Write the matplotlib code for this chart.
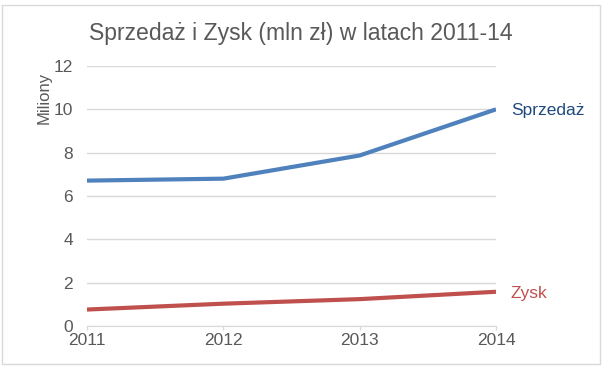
import matplotlib
matplotlib.use("Agg")
import matplotlib.pyplot as plt
from matplotlib.patches import Rectangle

years = ["2011", "2012", "2013", "2014"]
sprzedaz = [6.71, 6.80, 7.87, 10.0]
zysk = [0.76, 1.03, 1.24, 1.58]
yticks = [0, 2, 4, 6, 8, 10, 12]

plt.rcParams['font.family'] = ['Liberation Sans', 'DejaVu Sans']

fig = plt.figure(figsize=(6.04, 3.70), dpi=100)
fig.patch.set_facecolor("white")
fig.patches.append(Rectangle((2/604, 1 - 364/370), 598/604, 359/370,
                             transform=fig.transFigure, fill=False,
                             edgecolor="#d9d9d9", linewidth=1.0))

ax = fig.add_axes([87/604, 1 - 326/370, (496 - 87)/604, (326 - 66)/370])
x = list(range(len(years)))
ax.plot(x, sprzedaz, color="#4F81BD", linewidth=3.0, solid_capstyle="butt")
ax.plot(x, zysk, color="#C0504D", linewidth=3.0, solid_capstyle="butt")

ax.set_xlim(0, len(years) - 1)
ax.set_ylim(0, 12)
ax.set_xticks(x)
ax.set_xticklabels(years)
ax.set_yticks(yticks)
ax.set_yticklabels([str(v) for v in yticks])
ax.grid(axis="y", color="#d9d9d9", linewidth=1.0)
ax.set_axisbelow(True)
for s in ["top", "right", "left"]:
    ax.spines[s].set_visible(False)
ax.spines["bottom"].set_color("#d9d9d9")
ax.tick_params(axis="x", colors="#d9d9d9", labelcolor="#595959", labelsize=12.5,
               length=3, width=1, pad=2)
ax.tick_params(axis="y", length=0, labelcolor="#595959", labelsize=12.5, pad=10)

fig.text(44/604, 1 - 72/370, "Miliony", rotation=90, ha="center", va="top",
         color="#595959", fontsize=12)

ax.text(len(years) - 1 + 0.11, sprzedaz[-1] - 0.05, "Sprzedaż", color="#1F497D",
        fontsize=12.5, va="center", ha="left", clip_on=False)
ax.text(len(years) - 1 + 0.11, zysk[-1] - 0.07, "Zysk", color="#C0504D",
        fontsize=12.5, va="center", ha="left", clip_on=False)

fig.text(301/604, 1 - 40/370, "Sprzedaż i Zysk (mln zł) w latach 2011-14",
         ha="center", va="baseline", fontsize=16.6, color="#595959")

fig.savefig("out.png", dpi=100)
